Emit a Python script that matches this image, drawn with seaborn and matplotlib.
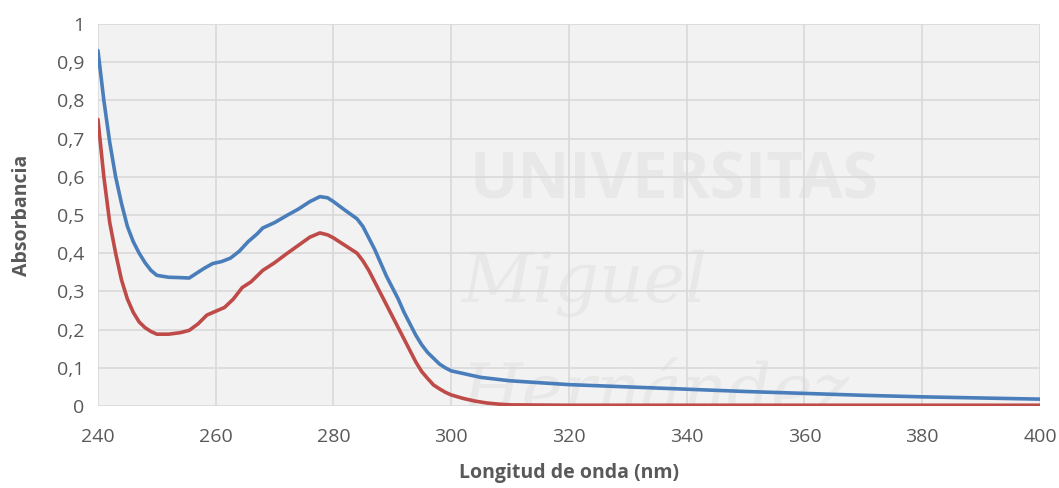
import numpy as np
import pandas as pd
import matplotlib
matplotlib.use("Agg")
import matplotlib.pyplot as plt
import seaborn as sns

# ---- data ----
wl_blue = [240, 241, 242, 243, 244, 245, 246, 247, 248, 249, 250, 252, 254, 255.5, 256.5, 258,
           259.5, 261, 262.5, 264, 265.5, 267, 268, 270, 272, 274, 276, 277.7, 279, 280, 282,
           284, 285, 286, 287, 288, 289, 290, 291, 292, 293, 294, 295, 296, 297, 298, 299, 300,
           305, 310, 320, 330, 340, 350, 360, 370, 380, 390, 400]
abs_blue = [0.93, 0.80, 0.69, 0.60, 0.53, 0.47, 0.43, 0.40, 0.375, 0.355, 0.342, 0.337, 0.336,
            0.335, 0.345, 0.36, 0.373, 0.378, 0.387, 0.405, 0.43, 0.45, 0.466, 0.48, 0.498,
            0.515, 0.535, 0.548, 0.545, 0.535, 0.512, 0.49, 0.47, 0.44, 0.41, 0.375, 0.34, 0.31,
            0.28, 0.245, 0.215, 0.185, 0.16, 0.14, 0.125, 0.11, 0.10, 0.092, 0.075, 0.066,
            0.056, 0.050, 0.044, 0.038, 0.033, 0.028, 0.024, 0.021, 0.018]

wl_red = [240, 241, 242, 243, 244, 245, 246, 247, 248, 249, 250, 252, 254, 255.5, 257, 258.5,
          260, 261.5, 263, 264.5, 266, 268, 270, 272, 274, 276, 277.7, 279, 280, 282, 284, 285,
          286, 287, 288, 289, 290, 291, 292, 293, 294, 295, 296, 297, 298, 299, 300, 302, 304,
          306, 308, 310, 320, 340, 360, 380, 400]
abs_red = [0.75, 0.60, 0.48, 0.40, 0.33, 0.28, 0.245, 0.22, 0.205, 0.195, 0.188, 0.188, 0.192,
           0.198, 0.215, 0.238, 0.248, 0.258, 0.28, 0.31, 0.325, 0.355, 0.375, 0.398, 0.42,
           0.442, 0.453, 0.448, 0.44, 0.42, 0.40, 0.38, 0.355, 0.325, 0.295, 0.265, 0.235,
           0.205, 0.175, 0.145, 0.115, 0.09, 0.072, 0.055, 0.045, 0.036, 0.029, 0.02, 0.013,
           0.008, 0.005, 0.003, 0.002, 0.002, 0.002, 0.002, 0.002]

x_ticks = [240, 260, 280, 300, 320, 340, 360, 380, 400]
y_ticks = [0, 0.1, 0.2, 0.3, 0.4, 0.5, 0.6, 0.7, 0.8, 0.9, 1.0]
y_tick_labels = ["0", "0,1", "0,2", "0,3", "0,4", "0,5", "0,6", "0,7", "0,8", "0,9", "1"]
x_label = "Longitud de onda (nm)"
y_label = "Absorbancia"

df = pd.concat([
    pd.DataFrame({"wl": wl_blue, "abs": abs_blue, "serie": "A"}),
    pd.DataFrame({"wl": wl_red, "abs": abs_red, "serie": "B"}),
])

sns.set_theme(style="white")
plt.rcParams["font.family"] = ["Open Sans", "DejaVu Sans"]

fig = plt.figure(figsize=(10.59, 4.88), dpi=100)
ax = fig.add_axes([0.0925, 0.168, 0.8895, 0.783])
ax.set_facecolor("#f2f2f2")

# faint watermark
wm = "#e8e8e8"
ax.text(0.395, 0.585, "UNIVERSITAS", transform=ax.transAxes, fontsize=46, fontweight="bold",
        color=wm, ha="left", va="center", zorder=0.5, clip_on=True)
ax.text(0.385, 0.32, "Miguel", transform=ax.transAxes, fontsize=50, fontstyle="italic",
        family="DejaVu Serif", color=wm, ha="left", va="center", zorder=0.5, clip_on=True)
ax.text(0.385, 0.03, "Hernández", transform=ax.transAxes, fontsize=50, fontstyle="italic",
        family="DejaVu Serif", color=wm, ha="left", va="center", zorder=0.5, clip_on=True)

sns.lineplot(data=df, x="wl", y="abs", hue="serie", palette={"A": "#4a7ebb", "B": "#be4b48"},
             linewidth=2.6, legend=False, ax=ax, zorder=3, sort=False)

ax.set_xlim(240, 400)
ax.set_ylim(0, 1)
ax.set_xticks(x_ticks)
ax.set_yticks(y_ticks)
ax.set_yticklabels(y_tick_labels)
ax.grid(True, color="#d9d9d9", linewidth=1.2, zorder=1)
ax.set_axisbelow(True)
for s in ax.spines.values():
    s.set_visible(False)
ax.tick_params(axis="both", length=0, labelsize=14, colors="#595959")
ax.tick_params(axis="x", pad=16)
ax.tick_params(axis="y", pad=10)
ax.set_xlabel(x_label, fontsize=14, fontweight="bold", color="#595959", labelpad=12)
ax.set_ylabel(y_label, fontsize=14, fontweight="bold", color="#595959", labelpad=18)

fig.savefig("out.png", dpi=100)
